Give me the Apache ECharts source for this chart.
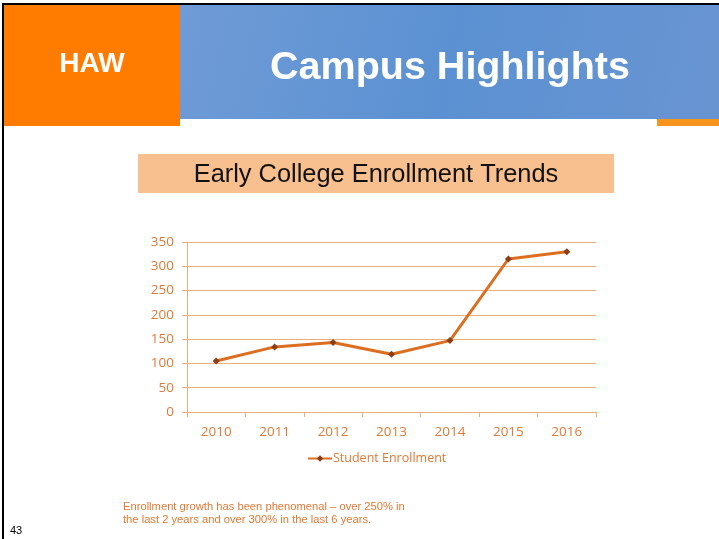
<!DOCTYPE html>
<html>
<head>
<meta charset="utf-8">
<script src="https://cdn.jsdelivr.net/npm/echarts@6/dist/echarts.min.js"></script>
<style>
  html, body { margin: 0; padding: 0; background: #fff; }
  #chart { width: 719px; height: 539px; }
</style>
</head>
<body>
<div id="chart"></div>
<script>
// chart data
const years = ["2010", "2011", "2012", "2013", "2014", "2015", "2016"];
const enrollment = [105, 134, 143, 119, 147, 315, 330];
const seriesName = "Student Enrollment";

const orangeText = "#e07a36";
const gridColor = "#eeae7c";

const myChart = echarts.init(document.getElementById("chart"));

const option = {
  backgroundColor: "#ffffff",
  animation: false,
  grid: { left: 187, right: 123, top: 242, bottom: 127 },
  legend: {
    data: [seriesName],
    left: 302,
    top: 447,
    itemWidth: 24,
    itemHeight: 8,
    itemGap: 0,
    textStyle: { color: orangeText, fontFamily: "Open Sans", fontSize: 12.5, padding: [0, 0, 0, -4] },
  },
  xAxis: {
    type: "category",
    data: years,
    boundaryGap: true,
    axisLine: { lineStyle: { color: gridColor, width: 1 } },
    axisTick: { show: true, length: 5, lineStyle: { color: gridColor } },
    axisLabel: { color: orangeText, fontFamily: "Open Sans", fontSize: 13.5, margin: 13 },
  },
  yAxis: {
    type: "value",
    min: 0,
    max: 350,
    interval: 50,
    axisLine: { show: true, lineStyle: { color: gridColor, width: 1 } },
    axisTick: { show: true, length: 5, lineStyle: { color: gridColor } },
    splitLine: { lineStyle: { color: gridColor, width: 1 } },
    axisLabel: { color: orangeText, fontFamily: "Open Sans", fontSize: 13.5, margin: 13 },
  },
  series: [
    {
      name: seriesName,
      type: "line",
      data: enrollment,
      symbol: "diamond",
      symbolSize: 7,
      lineStyle: { color: "#dd6d1f", width: 3 },
      itemStyle: { color: "#8c3f14" },
    },
  ],
  graphic: [
    // slide border
    { type: "rect", shape: { x: 2, y: 3, width: 717, height: 2 }, style: { fill: "#000" }, silent: true },
    { type: "rect", shape: { x: 2, y: 3, width: 2, height: 536 }, style: { fill: "#000" }, silent: true },
    // header blocks
    { type: "rect", shape: { x: 4, y: 5, width: 176, height: 121 }, style: { fill: "#ff7c00" }, silent: true },
    {
      type: "rect",
      shape: { x: 180, y: 5, width: 539, height: 114 },
      style: {
        fill: new echarts.graphic.LinearGradient(0, 0, 1, 1, [
          { offset: 0, color: "#6f9bd6" },
          { offset: 0.5, color: "#5b91d2" },
          { offset: 1, color: "#6994d2" },
        ]),
      },
      silent: true,
    },
    { type: "rect", shape: { x: 657, y: 119, width: 62, height: 7 }, style: { fill: "#f7941d" }, silent: true },
    {
      type: "text",
      x: 92, y: 64,
      style: {
        text: "HAW", fill: "#fff", font: "bold 28px 'Liberation Sans', Arial, sans-serif",
        align: "center", verticalAlign: "middle",
      },
      silent: true,
    },
    {
      type: "text",
      x: 450, y: 68,
      style: {
        text: "Campus Highlights", fill: "#fff", font: "bold 39.5px 'Liberation Sans', Arial, sans-serif",
        align: "center", verticalAlign: "middle",
      },
      silent: true,
    },
    // chart title box
    { type: "rect", shape: { x: 138, y: 154, width: 476, height: 39 }, style: { fill: "#f8bf8f" }, silent: true },
    {
      type: "text",
      x: 376, y: 175,
      style: {
        text: "Early College Enrollment Trends",
        fill: "#111",
        font: "25.4px 'Liberation Sans', Arial, sans-serif",
        align: "center",
        verticalAlign: "middle",
      },
      silent: true,
    },
    // note
    {
      type: "text",
      left: 123, top: 500,
      style: {
        text: "Enrollment growth has been phenomenal \u2013 over 250% in\nthe last 2 years and over 300% in the last 6 years.",
        fill: orangeText,
        font: "11.2px 'Liberation Sans', Arial, sans-serif",
        lineHeight: 13,
      },
      silent: true,
    },
    {
      type: "text",
      left: 10, top: 525,
      style: { text: "43", fill: "#000", font: "11px 'Liberation Sans', Arial, sans-serif" },
      silent: true,
    },
  ],
};

myChart.setOption(option);
</script>
</body>
</html>
